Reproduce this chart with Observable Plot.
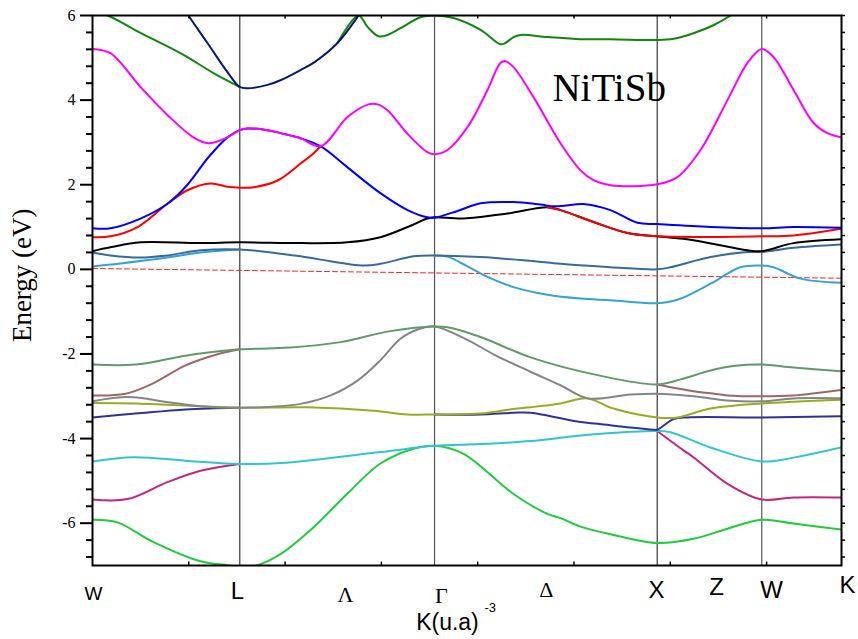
<!DOCTYPE html>
<html><head><meta charset="utf-8">
<script src="https://cdn.jsdelivr.net/npm/d3@7"></script>
<script src="https://cdn.jsdelivr.net/npm/@observablehq/plot@0.6"></script>
<style>
body{margin:0;background:#fff}
[aria-label="y-axis tick label"] text, [aria-label="y-axis tick label"] { font-family: "Liberation Serif", "Times New Roman", serif; font-size: 16px; }
</style>
</head><body><div id="chart"></div>
<script>
// ---- k-path (abscissa) ----
const kMax = 3.889;
const symK = [0.765, 1.776, 2.932, 3.475];          // L, Γ, X, W lines
const xMinorTicks = [0.5, 1, 1.5, 2, 2.5, 3, 3.5];
const pathLabels = ["W", "L", "Λ", "Γ", "Δ", "X", "Z", "W", "K"];
const pathLabelK = [0.005, 0.753, 1.314, 1.812, 2.357, 2.928, 3.240, 3.526, 3.920];
const yMajor = [-6, -4, -2, 0, 2, 4, 6];
const yMinor = [-6.8,-6.4,-5.6,-5.2,-4.8,-4.4,-3.6,-3.2,-2.8,-2.4,-1.6,-1.2,-0.8,-0.4,0.4,0.8,1.2,1.6,2.4,2.8,3.2,3.6,4.4,4.8,5.2,5.6];

// ---- bands: [k, E(eV)], null = hidden under another band ----
const fermi = [[0, 0.02], [3.889, -0.21]];

const bandGreenTop = [[0,6.08],[0.078,6.0],[0.249,5.59],[0.457,5.11],[0.628,4.64],[0.765,4.31],[0.9,null],
  [1.272,5.35],[1.381,6.0],[1.428,5.73],[1.485,5.51],[1.532,5.54],[1.599,5.70],[1.703,5.96],[1.776,6.0],
  [1.874,5.94],[2.015,5.66],[2.118,5.32],[2.144,5.35],[2.186,5.49],[2.222,5.54],[2.362,5.49],[2.534,5.44],
  [2.689,5.44],[2.932,5.42],[3.017,5.45],[3.12,5.58],[3.224,5.77],[3.313,6.0],[3.40,6.3]];
const bandNavy = [[0.45,6.35],[0.498,6.0],[0.597,5.35],[0.701,4.66],[0.765,4.31],[0.805,4.28],[0.909,4.36],
  [0.976,4.47],[1.08,4.71],[1.147,4.88],[1.272,5.35],[1.381,6.0],[1.43,6.35]];
const bandMagenta = [[0,5.21],[0.093,5.11],[0.249,4.31],[0.389,3.65],[0.524,3.12],[0.602,2.98],[0.701,3.12],
  [0.765,3.29],[0.805,3.33],[0.909,3.29],[0.976,3.22],[1.08,3.10],[1.184,2.91],[1.324,3.6],[1.433,3.9],
  [1.48,3.9],[1.532,3.76],[1.636,3.2],[1.739,2.77],[1.776,2.72],[1.843,2.82],[1.947,3.36],[2.051,4.24],
  [2.118,4.88],[2.144,4.92],[2.186,4.78],[2.29,4.07],[2.43,2.98],[2.534,2.34],[2.601,2.11],[2.689,1.99],
  [2.932,2.01],[3.037,2.18],[3.157,2.82],[3.297,4.0],[3.401,4.88],[3.475,5.21],[3.536,5.02],[3.64,4.24],
  [3.744,3.46],[3.816,3.22],[3.889,3.12]];
const bandBlue = [[0,0.97],[0.093,0.97],[0.249,1.2],[0.389,1.55],[0.493,2.0],[0.602,2.65],[0.701,3.12],
  [0.765,3.29],[0.805,3.33],[0.909,3.29],[0.976,3.22],[1.08,3.10],[1.184,2.91],[1.324,2.41],[1.495,1.8],
  [1.636,1.4],[1.739,1.23],[1.776,1.22],[1.895,1.38],[2.015,1.56],[2.186,1.59],[2.326,1.53],[2.404,1.49],
  [2.56,1.54],[2.689,1.4],[2.83,1.1],[2.932,1.07],[3.209,1.0],[3.475,0.97],[3.64,1.0],[3.889,0.98]];
const bandRed = [[0,0.76],[0.093,0.78],[0.234,1.0],[0.389,1.55],[0.493,1.87],[0.613,2.03],[0.701,1.95],
  [0.765,1.93],[0.836,1.94],[0.961,2.1],[1.08,2.5],[1.147,2.74],[1.184,2.91],[1.8,null],
  [2.362,1.47],[2.43,1.40],[2.601,1.12],[2.778,0.86],[2.932,0.78],[3.475,0.78],[3.64,0.8],[3.889,0.96]];
const bandBlack = [[0,0.43],[0.093,0.52],[0.249,0.64],[0.561,0.62],[0.765,0.64],[1.08,0.62],[1.324,0.64],
  [1.495,0.76],[1.636,1.0],[1.739,1.2],[1.776,1.23],[1.926,1.2],[2.155,1.32],[2.362,1.47],[2.43,1.40],
  [2.601,1.12],[2.778,0.86],[2.932,0.78],[3.12,0.69],[3.401,0.45],[3.475,0.43],[3.64,0.62],[3.889,0.71]];
const bandSteel = [[0,0.40],[0.093,0.33],[0.249,0.28],[0.389,0.33],[0.561,0.45],[0.765,0.47],[0.976,0.37],
  [1.08,0.31],[1.184,0.23],[1.407,0.09],[1.495,0.13],[1.667,0.31],[1.776,0.33],[2.015,0.29],[2.362,0.16],
  [2.43,0.13],[2.689,0.05],[2.932,0.0],[3.001,0.05],[3.209,0.29],[3.401,0.41],[3.475,0.41],[3.64,0.51],[3.889,0.59]];
const bandLightBlue = [[0,0.07],[0.145,0.14],[0.389,0.28],[0.561,0.40],[0.765,0.47],[1.2,null],
  [1.776,0.33],[1.843,0.30],[1.947,0.07],[2.051,-0.18],[2.186,-0.42],[2.362,-0.6],[2.534,-0.69],
  [2.689,-0.73],[2.932,-0.8],[3.037,-0.72],[3.209,-0.34],[3.364,0.05],[3.475,0.09],[3.536,0.05],
  [3.676,-0.22],[3.889,-0.32]];

const bandSage = [[0,-2.25],[0.223,-2.25],[0.483,-2.04],[0.691,-1.92],[0.765,-1.89],[1.028,-1.85],[1.288,-1.72],
  [1.547,-1.46],[1.776,-1.35],[1.843,-1.37],[2.015,-1.6],[2.274,-2.08],[2.622,-2.5],[2.932,-2.72],
  [3.053,-2.6],[3.209,-2.39],[3.339,-2.28],[3.475,-2.25],[3.64,-2.32],[3.889,-2.41]];
const bandMauve = [[0,-2.98],[0.171,-2.94],[0.312,-2.7],[0.483,-2.27],[0.654,-2.0],[0.765,-1.89],[1.5,null],
  [2.932,-2.72],[3.12,-2.88],[3.209,-2.93],[3.297,-2.98],[3.475,-3.0],[3.64,-2.98],[3.889,-2.85]];
const bandGray = [[0,-3.12],[0.187,-3.02],[0.395,-3.14],[0.571,-3.24],[0.765,-3.27],[1.08,-3.18],[1.236,-2.98],
  [1.376,-2.63],[1.495,-2.15],[1.599,-1.64],[1.703,-1.4],[1.776,-1.35],[1.926,-1.62],[2.1,-2.05],
  [2.274,-2.42],[2.43,-2.74],[2.57,-3.05],[2.793,-2.96],[2.932,-2.94],[3.12,-3.0],[3.297,-3.1],
  [3.475,-3.12],[3.64,-3.05],[3.889,-3.05]];
const bandOlive = [[0,-3.16],[0.223,-3.17],[0.483,-3.22],[0.765,-3.27],[1.116,-3.26],[1.459,-3.34],[1.636,-3.43],
  [1.776,-3.43],[2.015,-3.41],[2.186,-3.3],[2.274,-3.26],[2.43,-3.17],[2.57,-3.05],[2.705,-3.29],
  [2.932,-3.5],[3.037,-3.5],[3.209,-3.29],[3.475,-3.17],[3.889,-3.08]];
const bandIndigo = [[0,-3.5],[0.223,-3.41],[0.483,-3.31],[0.765,-3.27],[1.2,null],[1.776,-3.43],[2.015,-3.43],
  [2.186,-3.39],[2.274,-3.39],[2.534,-3.61],[2.622,-3.65],[2.793,-3.74],[2.913,-3.79],[2.932,-3.79],
  [3.017,-3.54],[3.089,-3.5],[3.475,-3.5],[3.889,-3.47]];
const bandCyan = [[0,-4.54],[0.213,-4.44],[0.5,-4.53],[0.765,-4.6],[0.976,-4.58],[1.495,-4.32],[1.776,-4.17],
  [2.015,-4.13],[2.274,-4.06],[2.534,-3.93],[2.793,-3.84],[2.932,-3.82],[3.001,-3.85],[3.209,-4.21],
  [3.475,-4.54],[3.64,-4.45],[3.889,-4.21]];
const bandCrimson = [[0,-5.44],[0.182,-5.43],[0.389,-5.03],[0.561,-4.76],[0.765,-4.6],[1.5,null],
  [2.932,-3.82],[3.069,-4.28],[3.12,-4.44],[3.297,-5.07],[3.475,-5.44],[3.64,-5.39],[3.889,-5.39]];
const bandGreen = [[0,-5.92],[0.13,-5.98],[0.301,-6.41],[0.561,-6.9],[0.706,-7.0],[0.765,-7.06],[0.852,-7.0],
  [0.976,-6.73],[1.147,-6.1],[1.324,-5.3],[1.495,-4.59],[1.667,-4.24],[1.776,-4.17],[1.926,-4.36],
  [2.186,-5.31],[2.362,-5.78],[2.43,-5.88],[2.534,-6.08],[2.689,-6.26],[2.932,-6.47],[3.12,-6.37],
  [3.297,-6.13],[3.475,-5.92],[3.64,-6.01],[3.889,-6.15]];

// draw order: bottom to top
const bands = [
  {pts: bandGreen, color: "#1fcc3c"},
  {pts: bandCrimson, color: "#c2267e"},
  {pts: bandCyan, color: "#31c6cf"},
  {pts: bandIndigo, color: "#2f3394"},
  {pts: bandOlive, color: "#98ac22"},
  {pts: bandGray, color: "#858585"},
  {pts: bandMauve, color: "#a06567"},
  {pts: bandSage, color: "#619a68"},
  {pts: bandLightBlue, color: "#35a3d4"},
  {pts: bandSteel, color: "#376b9e"},
  {pts: bandBlack, color: "#000000"},
  {pts: bandRed, color: "#ff0000"},
  {pts: bandBlue, color: "#0000ff"},
  {pts: bandMagenta, color: "#ff00ff"},
  {pts: bandGreenTop, color: "#0f870f"},
  {pts: bandNavy, color: "#0b1773"}
];

const SERIF = "'Liberation Serif', 'Times New Roman', serif";
const SANS = "'Liberation Sans', Arial, sans-serif";
const labelStyle = [
  {font: SANS, size: 19, dy: 28},
  {font: SANS, size: 24, dy: 26},
  {font: SERIF, size: 22, dy: 29},
  {font: SERIF, size: 22, dy: 30},
  {font: SERIF, size: 22, dy: 24},
  {font: SANS, size: 24, dy: 25},
  {font: SANS, size: 24, dy: 22},
  {font: SANS, size: 24, dy: 25},
  {font: SANS, size: 24, dy: 20}
];

const X = d => d[0], Y = d => d[1];

const chart = Plot.plot({
  width: 858, height: 639,
  marginLeft: 92, marginRight: 17, marginTop: 15, marginBottom: 74,
  style: {background: "#fff", fontSize: "16px", color: "#000"},
  x: {domain: [0, kMax], axis: null},
  y: {domain: [-7, 6], axis: null},
  marks: [
    Plot.ruleX(symK.filter((d, i) => i % 2 === 0), {stroke: "#111", strokeWidth: 1}),
    Plot.ruleX(symK.filter((d, i) => i % 2 === 1), {stroke: "#555", strokeWidth: 1.2}),
    Plot.line(fermi, {x: X, y: Y, stroke: "#ff2020", strokeWidth: 1, strokeDasharray: "5,3"}),
    ...bands.map(b => Plot.line(b.pts, {x: X, y: Y, stroke: b.color, strokeWidth: 2, curve: "catmull-rom", clip: true})),
    Plot.ruleX(xMinorTicks, {y1: -7, y2: -6.92, stroke: "#000", strokeWidth: 1.5}),
    Plot.ruleX(xMinorTicks, {y1: 6, y2: 5.92, stroke: "#000", strokeWidth: 1.5}),
    Plot.axisY({ticks: yMajor, tickSize: 12, tickPadding: 5, strokeWidth: 2, fontSize: 16,
      fontFamily: SERIF, tickFormat: d => String(d), label: null}),
    Plot.axisY({ticks: yMinor, tickSize: 6, strokeWidth: 2, tickFormat: () => "", label: null}),
    Plot.axisY({anchor: "right", ticks: yMajor.concat(yMinor), tickSize: 3, strokeWidth: 1.5, tickFormat: () => "", label: null}),
    Plot.frame({stroke: "#000", strokeWidth: 2}),
    ...pathLabels.map((t, i) => Plot.text([t], {x: pathLabelK[i], frameAnchor: "bottom", dy: labelStyle[i].dy,
      fontFamily: labelStyle[i].font, fontSize: labelStyle[i].size, lineAnchor: "middle", fill: "#000"})),
    Plot.text(["K(u.a)"], {x: 1.843, frameAnchor: "bottom", dy: 57, fontFamily: SANS, fontSize: 23, lineAnchor: "middle", fill: "#000"}),
    Plot.text(["-3"], {x: 2.035, frameAnchor: "bottom", dy: 42, fontFamily: SANS, fontSize: 13, textAnchor: "start", lineAnchor: "middle", fill: "#000"}),
    Plot.text(["Energy (eV)"], {y: -0.14, frameAnchor: "left", dx: -70, rotate: -90, textAnchor: "middle", fontFamily: SERIF, fontSize: 27, lineAnchor: "middle", fill: "#000"}),
    Plot.text(["NiTiSb"], {x: 2.388, y: 3.98, textAnchor: "start", lineAnchor: "bottom", fontFamily: SERIF, fontSize: 39, fill: "#000"})
  ]
});
document.getElementById("chart").appendChild(chart);
</script></body></html>
